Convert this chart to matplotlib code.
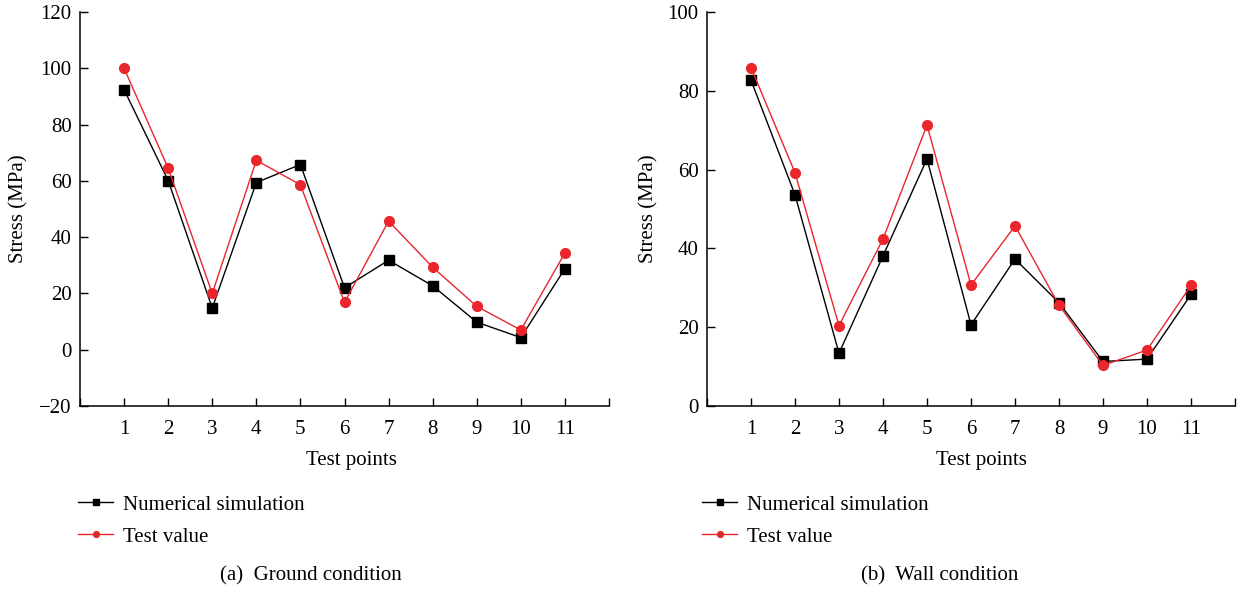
import matplotlib
matplotlib.use("Agg")
import matplotlib.pyplot as plt

plt.rcParams['font.family'] = ['Liberation Serif', 'DejaVu Serif']

points = list(range(1, 12))
tick_pos = list(range(0, 13))
tick_lab = [""] + [str(p) for p in points] + [""]

## Ground condition values (MPa)
ground_sim = [92.4, 60.1, 14.8, 59.4, 65.8, 22.0, 31.8, 22.7, 9.8, 4.3, 28.8]
ground_test = [100.0, 64.5, 20.0, 67.3, 58.6, 16.8, 45.7, 29.3, 15.4, 7.0, 34.4]

## Wall condition values (MPa)
wall_sim = [82.7, 53.6, 13.4, 38.1, 62.7, 20.6, 37.3, 26.2, 11.3, 11.9, 28.3]
wall_test = [85.9, 59.2, 20.4, 42.4, 71.3, 30.7, 45.7, 25.6, 10.3, 14.2, 30.6]

W, H = 1245, 593
fig = plt.figure(figsize=(W / 100, H / 100), dpi=100, facecolor='w')

red = '#e8262b'
fs = 15


def make_panel(rect, sim, test, ylim, yticks, caption, cap_x, xlab_x, ylab_x, leg_x):
    x0, y0, x1, y1 = rect
    ax = fig.add_axes([x0 / W, 1 - y1 / H, (x1 - x0) / W, (y1 - y0) / H])
    ax.plot(points, sim, '-s', color='black', lw=1.0, markersize=7, label="Numerical simulation")
    ax.plot(points, test, '-o', color=red, lw=1.0, markersize=7, label="Test value")
    ax.set_xlim(0, 12)
    ax.set_ylim(*ylim)
    ax.set_xticks(tick_pos)
    ax.set_xticklabels(tick_lab)
    ax.set_yticks(yticks)
    for s in ['top', 'right']:
        ax.spines[s].set_visible(False)
    for s in ['left', 'bottom']:
        ax.spines[s].set_linewidth(1.1)
    ax.tick_params(direction='in', length=6, width=1, labelsize=fs, pad=6)
    ax.tick_params(axis='x', pad=10)
    ax.set_ylabel("Stress (MPa)", fontsize=fs)
    ax.yaxis.set_label_coords((ylab_x - x0) / (x1 - x0), 0.5)
    fig.text(xlab_x / W, 1 - 461 / H, "Test points", fontsize=fs, ha='center', va='center')
    fig.text(cap_x / W, 1 - 576 / H, caption, fontsize=fs, ha='center', va='center')
    # legend under the plot
    fig.legend(handles=ax.get_lines(), loc='upper left', bbox_to_anchor=(leg_x / W, 1 - 495 / H),
               frameon=False, fontsize=fs, borderpad=0, borderaxespad=0,
               handlelength=1.7, handletextpad=0.45, labelspacing=0.6, markerscale=0.6)
    return ax


make_panel((80, 12, 609, 406), ground_sim, ground_test, (-20, 120), range(-20, 121, 20),
           "(a)  Ground condition", 311, 351, 28, 78)
make_panel((707, 12, 1235, 406), wall_sim, wall_test, (0, 100), range(0, 101, 20),
           "(b)  Wall condition", 940, 981, 658, 702)

plt.savefig("out.png", dpi=100)
